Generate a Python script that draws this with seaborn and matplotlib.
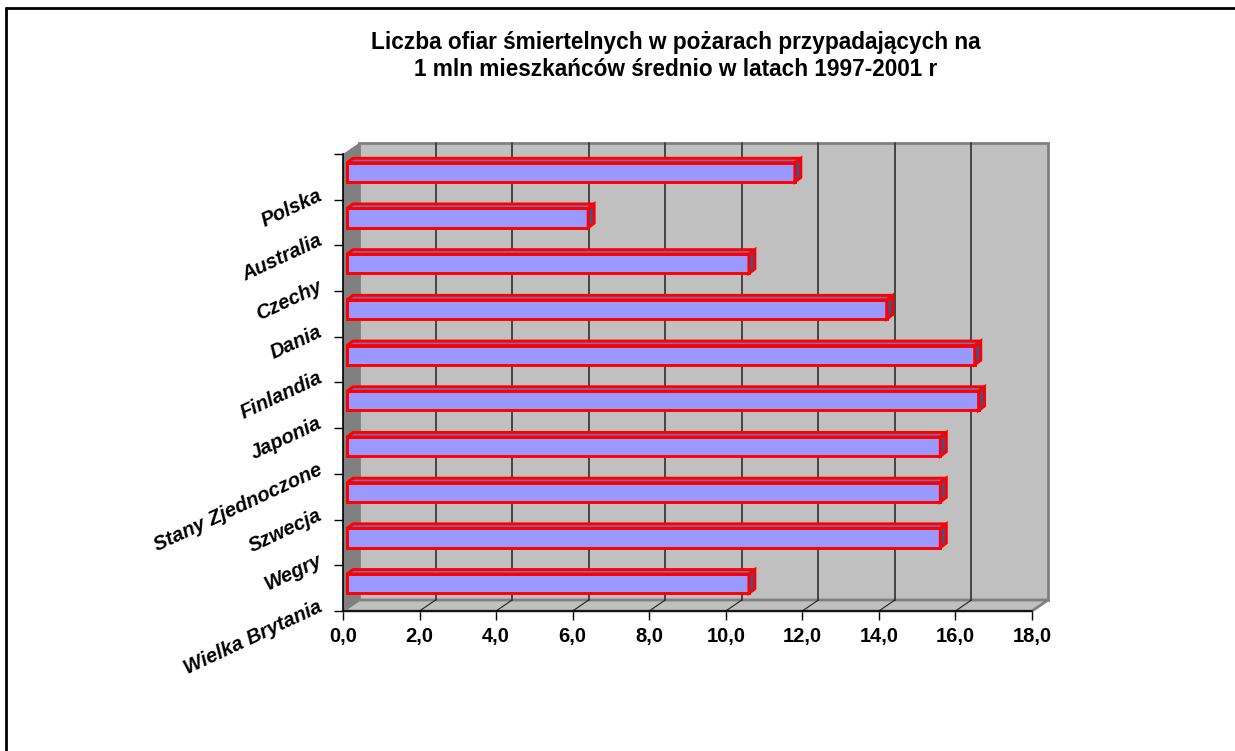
import numpy as np
import pandas as pd
import seaborn as sns
import matplotlib.pyplot as plt
from matplotlib.patches import Polygon, Rectangle
from matplotlib.lines import Line2D

# data
countries = ['Polska', 'Australia', 'Czechy', 'Dania', 'Finlandia', 'Japonia',
             'Stany Zjednoczone', 'Szwecja', 'Wegry', 'Wielka Brytania']
deaths = [11.7, 6.3, 10.5, 14.1, 16.4, 16.5, 15.5, 15.5, 15.5, 10.5]
x_ticks = [0, 2, 4, 6, 8, 10, 12, 14, 16, 18]
x_labels = ['0,0', '2,0', '4,0', '6,0', '8,0', '10,0', '12,0', '14,0', '16,0', '18,0']
title = ('Liczba ofiar śmiertelnych w pożarach przypadających na\n'
         '1 mln mieszkańców średnio w latach 1997-2001 r')

sns.set_theme(style='white')
plt.rcParams['font.family'] = ['Liberation Sans', 'DejaVu Sans']
plt.rcParams['text.color'] = 'black'
plt.rcParams['xtick.labelcolor'] = 'black'
plt.rcParams['ytick.labelcolor'] = 'black'

W, H = 1235, 751
fig = plt.figure(figsize=(W / 100, H / 100), dpi=100)

# front plane of the 3D box, in pixels
fx0, fx1, fy0, fy1 = 343, 1032, 154, 611
ax = fig.add_axes([fx0 / W, 1 - fy1 / H, (fx1 - fx0) / W, (fy1 - fy0) / H])

df = pd.DataFrame({'kraj': countries, 'ofiary': deaths})
sns.barplot(data=df, x='ofiary', y='kraj', orient='h', color='#9999FF',
            saturation=1, width=0.42, edgecolor='#FF0000', linewidth=2.1,
            ax=ax, zorder=4)

n = len(countries)
xmax = x_ticks[-1]
ax.set_xlim(0, xmax)
ax.set_ylim(n - 0.5, -0.5)
ax.set_facecolor('none')

# pixel -> data conversion
sx = (fx1 - fx0) / xmax
sy = (fy1 - fy0) / n
ddx, ddy = 16 / sx, -11 / sy          # depth of the box
bdx, bdy = 6 / sx, -4.5 / sy          # depth of a bar
offx, offy = 4 / sx, -4.5 / sy        # bars sit a bit inside the box

top = -0.5
bot = n - 0.5

# walls
ax.add_patch(Polygon([(0, top), (ddx, top + ddy), (ddx, bot + ddy), (0, bot)],
                     closed=True, facecolor='#808080', edgecolor='none',
                     zorder=0, clip_on=False))
ax.add_patch(Rectangle((ddx, top + ddy), xmax, n, facecolor='#C0C0C0',
                       edgecolor='#808080', linewidth=2, zorder=0, clip_on=False))
ax.add_patch(Polygon([(0, bot), (xmax, bot), (xmax + ddx, bot + ddy), (ddx, bot + ddy)],
                     closed=True, facecolor='#C0C0C0', edgecolor='#808080',
                     linewidth=2, zorder=1, clip_on=False))

for v in x_ticks[1:-1]:
    ax.plot([v + ddx, v + ddx], [top + ddy, bot + ddy], color='#3a3a3a', lw=1.3,
            zorder=2, clip_on=False)
    ax.plot([v, v + ddx], [bot, bot + ddy], color='#202020', lw=0.8,
            zorder=2, clip_on=False)

# bars: shift front face, add top and side faces
bars = [p for p in ax.patches if isinstance(p, Rectangle) and p.get_zorder() == 4]
for p in bars:
    p.set_x(p.get_x() + offx)
    p.set_y(p.get_y() + offy)
    x0 = p.get_x()
    x1 = x0 + p.get_width()
    yt = p.get_y()
    yb = yt + p.get_height()
    ax.add_patch(Polygon([(x0, yt), (x1, yt), (x1 + bdx, yt + bdy), (x0 + bdx, yt + bdy)],
                         closed=True, facecolor='#7272B8', edgecolor='#FF0000',
                         linewidth=2.1, zorder=4, clip_on=False))
    ax.add_patch(Polygon([(x1, yt), (x1 + bdx, yt + bdy), (x1 + bdx, yb + bdy), (x1, yb)],
                         closed=True, facecolor='#4D4D80', edgecolor='#FF0000',
                         linewidth=2.1, zorder=4, clip_on=False))

# axes lines and ticks
for s in ['top', 'right']:
    ax.spines[s].set_visible(False)
for s in ['left', 'bottom']:
    ax.spines[s].set_color('black')
    ax.spines[s].set_linewidth(1.2)
    ax.spines[s].set_zorder(3)

ax.set_xticks(x_ticks)
ax.set_xticklabels(x_labels, fontsize=14.5, fontweight='bold', color='black')
ax.set_yticks(np.arange(-0.5, n, 1.0))
ax.set_yticklabels([])
ax.tick_params(axis='both', direction='out', length=6.5, width=1, color='black',
               bottom=True, left=True)
ax.tick_params(axis='x', pad=5)
ax.set_xlabel('')
ax.set_ylabel('')
ax.grid(False)

for i, name in enumerate(countries):
    ax.text(-22 / sx, i + 0.38, name, ha='right', va='center', rotation=25,
            rotation_mode='anchor', fontsize=14.5, fontweight='bold',
            fontstyle='italic', color='black', clip_on=False)

fig.text(676 / W, 1 - 56 / H, title, ha='center', va='center', fontsize=16.3,
         fontweight='bold', linespacing=1.25, color='black')

# outer frame (only left and top visible)
fig.add_artist(Line2D([6 / W, 6 / W], [0, 1 - 8 / H], color='black', lw=2))
fig.add_artist(Line2D([6 / W, 1], [1 - 8 / H, 1 - 8 / H], color='black', lw=2))

fig.savefig('out.png', dpi=100)
